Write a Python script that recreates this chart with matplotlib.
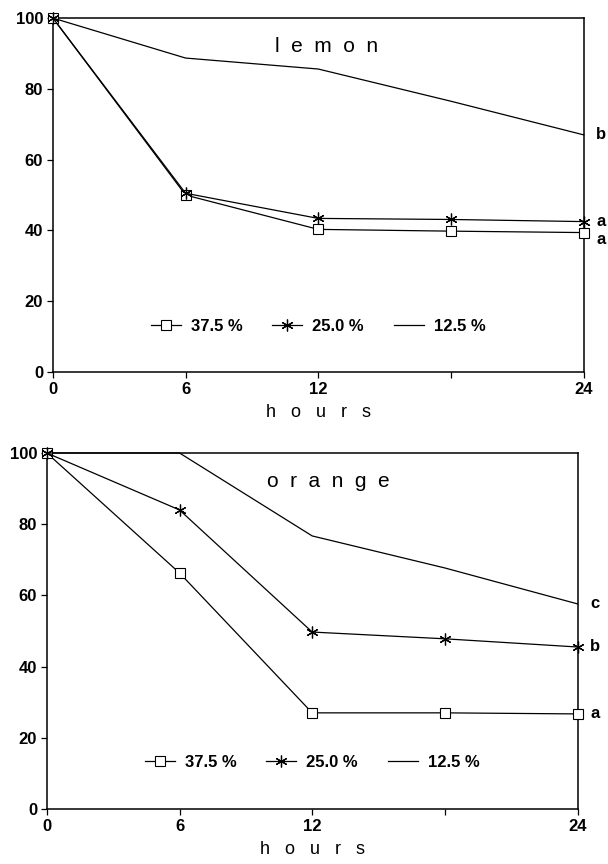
import matplotlib
matplotlib.use('Agg')
import matplotlib.pyplot as plt

plt.rcParams['font.family'] = ['Liberation Sans', 'DejaVu Sans']

hours = [0, 6, 12, 18, 24]
tick_labels = ['0', '6', '12', '', '24']
series_names = ['37.5 %', '25.0 %', '12.5 %']

# lemon, values in %
lemon_375 = [100, 50.0, 40.3, 39.8, 39.4]
lemon_250 = [100, 50.5, 43.4, 43.1, 42.5]
lemon_125 = [100, 88.7, 85.6, 76.5, 67.0]
lemon_letters = ['a', 'a', 'b']

# orange
orange_375 = [100, 66.3, 27.0, 27.0, 26.7]
orange_250 = [100, 84.0, 49.7, 47.8, 45.5]
orange_125 = [100, 100, 76.7, 67.7, 57.6]
orange_letters = ['a', 'b', 'c']


def panel(ax, title, s375, s250, s125, letters, title_x, letter_dy):
    ax.plot(hours, s375, color='black', lw=0.9, marker='s', ms=6.5,
            mfc='white', mec='black', mew=0.8, clip_on=False, zorder=3)
    # asterisk marker: 6 arms, vertical one on top
    ax.plot(hours, s250, color='black', lw=0.9, marker=(6, 2, 0), ms=8.5,
            mec='black', mew=0.9, clip_on=False, zorder=3)
    ax.plot(hours, s125, color='black', lw=0.9, clip_on=False, zorder=3)

    ax.set_xlim(0, 24)
    ax.set_ylim(0, 100)
    ax.set_xticks(hours)
    ax.set_xticklabels(tick_labels)
    ax.set_yticks([0, 20, 40, 60, 80, 100])
    ax.tick_params(direction='out', length=4, width=0.9, labelsize=12, pad=3)
    for lab in ax.get_xticklabels() + ax.get_yticklabels():
        lab.set_fontweight('bold')
    for sp in ax.spines.values():
        sp.set_linewidth(1.1)

    ax.set_xlabel('h   o   u   r   s', fontsize=13, labelpad=5)
    ax.text(title_x, 0.92, title, transform=ax.transAxes, fontsize=15,
            ha='center', va='center')

    ends = [s375[-1], s250[-1], s125[-1]]
    for letter, yv, dy in zip(letters, ends, letter_dy):
        ax.annotate(letter, xy=(24, yv), xytext=(9, dy), textcoords='offset points',
                    fontsize=12, fontweight='bold', ha='left', va='center',
                    annotation_clip=False)

    ax.legend(series_names, loc='center', bbox_to_anchor=(0.5, 0.13), ncol=3,
              frameon=False, prop={'size': 12, 'weight': 'bold'},
              handlelength=1.8, handletextpad=0.6, columnspacing=1.8)


fig = plt.figure(figsize=(6.08, 8.64), dpi=100)
ax1 = fig.add_axes([0.087, 0.5694, 0.873, 0.4097])
ax2 = fig.add_axes([0.077, 0.0637, 0.873, 0.412])

panel(ax1, 'l  e  m  o  n', lemon_375, lemon_250, lemon_125, lemon_letters, 0.516, [-5, 0, 0])
panel(ax2, 'o  r  a  n  g  e', orange_375, orange_250, orange_125, orange_letters, 0.53, [0, 0, 0])

fig.savefig('out.png', dpi=100)
